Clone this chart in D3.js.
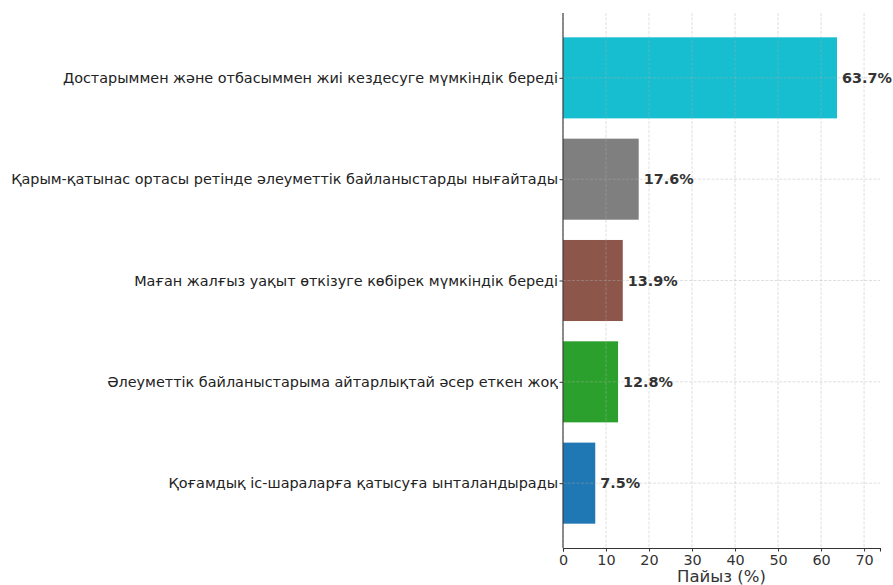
<!DOCTYPE html>
<html>
<head>
<meta charset="utf-8">
<script src="https://cdn.jsdelivr.net/npm/d3@7"></script>
<style>
  body { margin: 0; background: #fff; }
  svg { font-family: "DejaVu Sans", sans-serif; }
</style>
</head>
<body>
<svg id="chart" width="893" height="585"></svg>
<script>
// data, top bar first
const categories = [
  'Достарыммен және отбасыммен жиі кездесуге мүмкіндік береді',
  'Қарым-қатынас ортасы ретінде әлеуметтік байланыстарды нығайтады',
  'Маған жалғыз уақыт өткізуге көбірек мүмкіндік береді',
  'Әлеуметтік байланыстарыма айтарлықтай әсер еткен жоқ',
  'Қоғамдық іс-шараларға қатысуға ынталандырады'
]
const percents = [63.7, 17.6, 13.9, 12.8, 7.5]
const barColors = ['#17becf', '#7f7f7f', '#8c564b', '#2ca02c', '#1f77b4']
const xTicks = [0, 10, 20, 30, 40, 50, 60, 70]

const svg = d3.select('#chart')
const plotL = 563, plotR = 880, plotT = 13, plotB = 548

const x = d3.scaleLinear().domain([0, 73.7]).range([plotL, plotR])
const y = d3.scaleLinear().domain([-0.64, 4.64]).range([plotT, plotB])
const barH = (y(0.4) - y(-0.4))

// bars
svg.selectAll('.bar')
  .data(percents)
  .join('rect')
  .attr('class', 'bar')
  .attr('x', x(0))
  .attr('y', (d, i) => y(i) - barH / 2)
  .attr('width', d => x(d) - x(0))
  .attr('height', barH)
  .attr('fill', (d, i) => barColors[i])

// grid (drawn above bars)
svg.append('g')
  .attr('class', 'grid-x')
  .selectAll('line')
  .data(xTicks)
  .join('line')
  .attr('x1', d => x(d)).attr('x2', d => x(d))
  .attr('y1', plotT).attr('y2', plotB)
  .attr('stroke', '#b0b0b0')
  .attr('stroke-opacity', 0.5)
  .attr('stroke-dasharray', '3,1.5')
  .attr('stroke-width', 0.8)

svg.append('g')
  .attr('class', 'grid-y')
  .selectAll('line')
  .data(categories)
  .join('line')
  .attr('x1', plotL).attr('x2', plotR)
  .attr('y1', (d, i) => y(i)).attr('y2', (d, i) => y(i))
  .attr('stroke', '#b0b0b0')
  .attr('stroke-opacity', 0.5)
  .attr('stroke-dasharray', '3,1.5')
  .attr('stroke-width', 0.8)

// value labels
svg.selectAll('.val')
  .data(percents)
  .join('text')
  .attr('class', 'val')
  .attr('x', d => x(d) + 5)
  .attr('y', (d, i) => y(i))
  .attr('dy', '0.35em')
  .style('font-size', '14.4px')
  .style('font-weight', 'bold')
  .attr('fill', '#333')
  .text(d => d.toFixed(1) + '%')

// x axis
const xAxis = svg.append('g')
  .attr('transform', `translate(0,${plotB})`)
  .call(d3.axisBottom(x).tickValues(xTicks).tickSize(3.5).tickPadding(3))
xAxis.select('.domain').attr('stroke', '#333').attr('stroke-width', 1.1)
xAxis.selectAll('.tick line').attr('stroke', '#333')
xAxis.selectAll('.tick text')
  .style('font-size', '14.4px')
  .style('font-family', '"DejaVu Sans", sans-serif')
  .attr('fill', '#333')

// y axis
const yAxis = svg.append('g')
  .attr('transform', `translate(${plotL},0)`)
  .call(d3.axisLeft(y).tickValues(d3.range(categories.length))
    .tickFormat(i => categories[i]).tickSize(3.5).tickPadding(1.5))
yAxis.select('.domain').attr('d', `M0,${plotT}V${plotB}`).attr('stroke', '#333').attr('stroke-width', 1.1)
yAxis.selectAll('.tick line').attr('stroke', '#333')
yAxis.selectAll('.tick text')
  .style('font-size', '14.4px')
  .style('font-family', '"DejaVu Sans", sans-serif')
  .attr('fill', '#222')

// axis title
svg.append('text')
  .attr('x', (plotL + plotR) / 2)
  .attr('y', 582)
  .attr('text-anchor', 'middle')
  .style('font-size', '16.5px')
  .attr('fill', '#333')
  .text('Пайыз (%)')
</script>
</body>
</html>
